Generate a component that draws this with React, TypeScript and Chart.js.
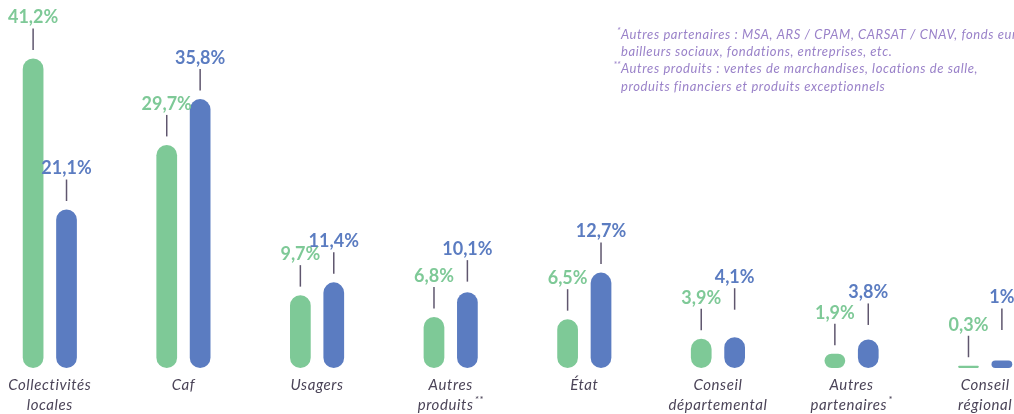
import React, { useEffect, useRef } from "react";
import { Chart, registerables } from "chart.js";

Chart.register(...registerables);

// ---------- DATA ----------
const categories: string[][] = [
  ["Collectivités", "locales"],
  ["Caf"],
  ["Usagers"],
  ["Autres", "produits**"],
  ["État"],
  ["Conseil", "départemental"],
  ["Autres", "partenaires*"],
  ["Conseil", "régional"],
];
const serieVerte: number[] = [41.2, 29.7, 9.7, 6.8, 6.5, 3.9, 1.9, 0.3];
const serieBleue: number[] = [21.1, 35.8, 11.4, 10.1, 12.7, 4.1, 3.8, 1];
const footnoteMarks: string[] = ["*", "", "**", ""];
const footnoteLines: string[] = [
  "Autres partenaires : MSA, ARS / CPAM, CARSAT / CNAV, fonds européens,",
  "bailleurs sociaux, fondations, entreprises, etc.",
  "Autres produits : ventes de marchandises, locations de salle,",
  "produits financiers et produits exceptionnels",
];

// ---------- LAYOUT (extra lift of value labels, px) ----------
const liftVerte: number[] = [0, 0, 0, 0, 0, 0, 0, 0];
const liftBleue: number[] = [0, 0, 0, 2, 0, 19, 6, 22];

// ---------- STYLE ----------
const GREEN = "#7ec997";
const BLUE = "#5b7cc1";
const LINE = "#5f566e";
const CAT_COLOR = "#4b4458";
const NOTE_COLOR = "#9a82c9";
const OFFSET = 17;
const CANVAS_W = 1069;
const CANVAS_H = 414;
const FONT = "Lato, 'Open Sans', sans-serif";

function fmt(v: number): string {
  return String(v).replace(".", ",") + "%";
}

function drawWithSup(ctx: any, text: string, cx: number, cy: number, font: string, supFont: string) {
  const m = text.match(/^(.*?)(\*+)$/);
  ctx.textBaseline = "middle";
  ctx.textAlign = "left";
  ctx.font = font;
  const main = m ? m[1] : text;
  const w1 = ctx.measureText(main).width;
  let w2 = 0;
  if (m) {
    ctx.font = supFont;
    w2 = ctx.measureText(m[2]).width + 1;
  }
  const start = cx - (w1 + w2) / 2;
  ctx.font = font;
  ctx.fillText(main, start, cy);
  if (m) {
    ctx.font = supFont;
    ctx.fillText(m[2], start + w1 + 1, cy - 5);
  }
}

const overlay = {
  id: "overlay",
  afterDatasetsDraw(chart: any) {
    const ctx: any = chart.ctx;
    ctx.save();
    const lifts = [liftVerte, liftBleue];
    // value labels + leader lines
    chart.data.datasets.forEach((ds: any, di: number) => {
      const meta = chart.getDatasetMeta(di);
      meta.data.forEach((bar: any, i: number) => {
        const x = bar.x;
        const top = bar.y - lifts[di][i];
        ctx.strokeStyle = LINE;
        ctx.lineWidth = 1.5;
        ctx.beginPath();
        ctx.moveTo(x, top - 8.5);
        ctx.lineTo(x, top - 30);
        ctx.stroke();
        ctx.fillStyle = ds.backgroundColor;
        ctx.font = `bold 18px ${FONT}`;
        ctx.letterSpacing = "0px";
        ctx.textAlign = "center";
        ctx.textBaseline = "middle";
        ctx.fillText(fmt(ds.data[i]), x, top - 41);
      });
    });
    // category labels
    const xs = chart.scales.x;
    ctx.fillStyle = CAT_COLOR;
    ctx.letterSpacing = "0.6px";
    categories.forEach((lines, i) => {
      const cx = xs.getPixelForValue(i);
      lines.forEach((ln, li) => {
        drawWithSup(ctx, ln, cx, 385 + li * 20, `italic 15px ${FONT}`, `italic 10px ${FONT}`);
      });
    });
    // footnotes
    ctx.fillStyle = NOTE_COLOR;
    const ys = [35, 52, 69, 87];
    footnoteLines.forEach((ln, i) => {
      const x0 = 621 + OFFSET;
      ctx.textAlign = "left";
      ctx.textBaseline = "middle";
      if (footnoteMarks[i]) {
        ctx.letterSpacing = "0px";
        ctx.font = `italic 9px ${FONT}`;
        const w = ctx.measureText(footnoteMarks[i]).width;
        ctx.fillText(footnoteMarks[i], x0 - w - 0.5, ys[i] - 4);
      }
      ctx.letterSpacing = "0.6px";
      ctx.font = `italic 13px ${FONT}`;
      ctx.fillText(ln, x0, ys[i]);
    });
    ctx.letterSpacing = "0px";
    ctx.restore();
  },
};

export default function App() {
  const ref = useRef<HTMLCanvasElement | null>(null);
  useEffect(() => {
    if (!ref.current) return;
    const chart = new Chart(ref.current, {
      type: "bar",
      data: {
        labels: categories.map((c) => c.join(" ")),
        datasets: [
          {
            label: "Série 1",
            data: serieVerte,
            backgroundColor: GREEN,
            borderRadius: 30,
            borderSkipped: false,
            categoryPercentage: 0.5,
            barPercentage: 0.62,
          },
          {
            label: "Série 2",
            data: serieBleue,
            backgroundColor: BLUE,
            borderRadius: 30,
            borderSkipped: false,
            categoryPercentage: 0.5,
            barPercentage: 0.62,
          },
        ],
      },
      options: {
        responsive: false,
        animation: false,
        layout: { padding: { left: 0, right: 0, top: 30, bottom: 46 } },
        plugins: { legend: { display: false }, tooltip: { enabled: false } },
        scales: {
          x: { display: false },
          y: { display: false, min: 0, max: 45 },
        },
      },
      plugins: [overlay],
    });
    return () => chart.destroy();
  }, []);
  return (
    <div
      style={{
        position: "fixed",
        left: 0,
        top: 0,
        width: 1014,
        height: 414,
        overflow: "hidden",
        background: "#ffffff",
      }}
    >
      <canvas
        ref={ref}
        width={CANVAS_W}
        height={CANVAS_H}
        style={{ position: "absolute", left: -OFFSET, top: 0, width: CANVAS_W, height: CANVAS_H }}
      />
    </div>
  );
}
